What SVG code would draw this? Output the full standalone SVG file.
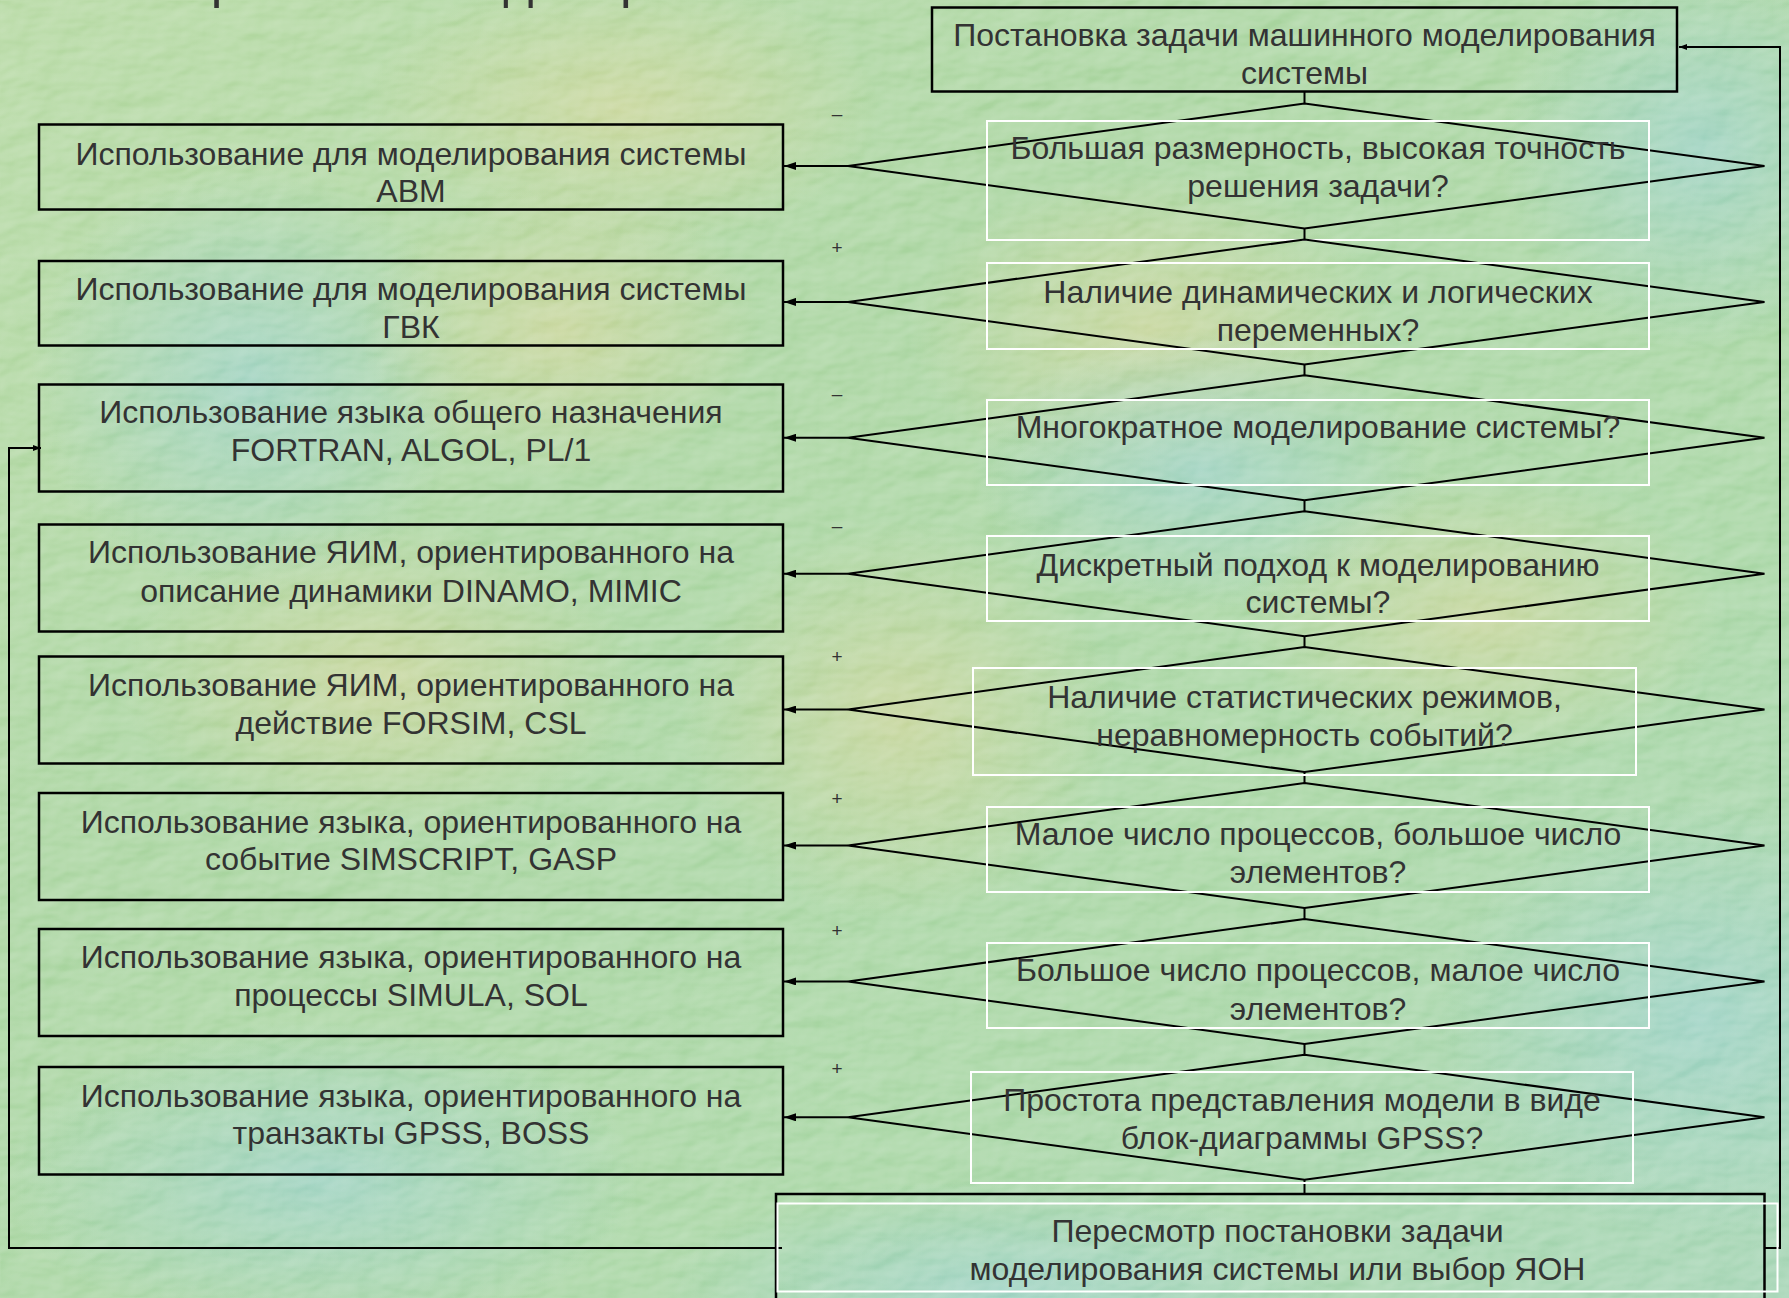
<svg xmlns="http://www.w3.org/2000/svg" width="1789" height="1298" viewBox="0 0 1789 1298">
<defs>
  <linearGradient id="bg" x1="0" y1="0" x2="1" y2="1">
    <stop offset="0" stop-color="#b4d8a0"/>
    <stop offset="0.35" stop-color="#a8d49e"/>
    <stop offset="0.7" stop-color="#a6d5a2"/>
    <stop offset="1" stop-color="#a1d3b2"/>
  </linearGradient>
  <radialGradient id="yel"><stop offset="0" stop-color="#d8d596" stop-opacity="0.6"/><stop offset="1" stop-color="#d8d596" stop-opacity="0"/></radialGradient>
  <radialGradient id="blu"><stop offset="0" stop-color="#98d0cc" stop-opacity="0.7"/><stop offset="1" stop-color="#98d0cc" stop-opacity="0"/></radialGradient>
  <filter id="tex" x="0" y="0" width="100%" height="100%">
    <feTurbulence type="fractalNoise" baseFrequency="0.022 0.04" numOctaves="3" seed="7" result="n"/>
    <feDiffuseLighting in="n" surfaceScale="3" lighting-color="#ffffff" result="l">
      <feDistantLight azimuth="225" elevation="55"/>
    </feDiffuseLighting>
    <feColorMatrix in="l" type="matrix" values="0 0 0 0 1  0 0 0 0 1  0 0 0 0 1  1.4 0 0 0 -0.85"/>
  </filter>
  <marker id="arr" markerWidth="12" markerHeight="8" refX="12" refY="4" orient="auto" markerUnits="userSpaceOnUse">
    <path d="M0,0 L12,4 L0,8 z" fill="#000"/>
  </marker>
  <marker id="arrs" markerWidth="8" markerHeight="6" refX="8" refY="3" orient="auto" markerUnits="userSpaceOnUse">
    <path d="M0,0 L8,3 L0,6 z" fill="#000"/>
  </marker>
  <style>
    .box { fill: none; stroke: #000; stroke-width: 2.5; }
    .dia { fill: none; stroke: #000; stroke-width: 2; }
    .wr { fill: none; stroke: #ffffff; stroke-width: 2; }
    .t { font-family: "Liberation Sans", Arial, sans-serif; font-size: 32px; fill: #333333; text-anchor: middle; }
    .s { font-family: "Liberation Sans", Arial, sans-serif; font-size: 19px; fill: #333333; text-anchor: middle; }
    .c { fill: none; stroke: #000; stroke-width: 2; }
    .title { font-family: "Liberation Sans", Arial, sans-serif; font-size: 52px; fill: #333333; }
  </style>
</defs>

<g id="background">
  <rect x="0" y="0" width="1789" height="1298" fill="url(#bg)"/>
  <ellipse cx="620" cy="110" rx="260" ry="140" fill="url(#yel)"/>
  <ellipse cx="250" cy="380" rx="220" ry="220" fill="url(#blu)"/>
  <ellipse cx="560" cy="330" rx="200" ry="150" fill="url(#yel)"/>
  <ellipse cx="1150" cy="330" rx="240" ry="160" fill="url(#yel)"/>
  <ellipse cx="1200" cy="470" rx="230" ry="140" fill="url(#blu)"/>
  <ellipse cx="380" cy="680" rx="260" ry="160" fill="url(#yel)"/>
  <ellipse cx="1480" cy="620" rx="240" ry="150" fill="url(#yel)"/>
  <ellipse cx="1700" cy="1020" rx="260" ry="220" fill="url(#blu)"/>
  <ellipse cx="320" cy="1180" rx="320" ry="160" fill="url(#blu)"/>
  <ellipse cx="1000" cy="1290" rx="340" ry="110" fill="url(#blu)"/>
  <ellipse cx="900" cy="720" rx="220" ry="200" fill="url(#yel)"/>
  <ellipse cx="1700" cy="150" rx="200" ry="200" fill="url(#blu)"/>
  <rect x="0" y="0" width="1789" height="1298" filter="url(#tex)" opacity="0.5"/>
</g>

<text class="title" x="87" y="-3">выбора языка моделирования</text>

<g id="connectors">
  <line class="c" x1="1304.5" y1="92" x2="1304.5" y2="103.5"/>
  <line class="c" x1="1304.5" y1="228.5" x2="1304.5" y2="239.4"/>
  <line class="c" x1="1304.5" y1="364.4" x2="1304.5" y2="375.3"/>
  <line class="c" x1="1304.5" y1="500.3" x2="1304.5" y2="511.2"/>
  <line class="c" x1="1304.5" y1="636.2" x2="1304.5" y2="647.1"/>
  <line class="c" x1="1304.5" y1="772.1" x2="1304.5" y2="783"/>
  <line class="c" x1="1304.5" y1="908" x2="1304.5" y2="918.9"/>
  <line class="c" x1="1304.5" y1="1043.9" x2="1304.5" y2="1054.8"/>
  <line class="c" x1="1304.5" y1="1179.8" x2="1304.5" y2="1194"/>

  <line class="c" x1="848" y1="166" x2="784" y2="166" marker-end="url(#arr)"/>
  <line class="c" x1="848" y1="301.9" x2="784" y2="301.9" marker-end="url(#arr)"/>
  <line class="c" x1="848" y1="437.8" x2="784" y2="437.8" marker-end="url(#arr)"/>
  <line class="c" x1="848" y1="573.7" x2="784" y2="573.7" marker-end="url(#arr)"/>
  <line class="c" x1="848" y1="709.6" x2="784" y2="709.6" marker-end="url(#arr)"/>
  <line class="c" x1="848" y1="845.5" x2="784" y2="845.5" marker-end="url(#arr)"/>
  <line class="c" x1="848" y1="981.4" x2="784" y2="981.4" marker-end="url(#arr)"/>
  <line class="c" x1="848" y1="1117.3" x2="784" y2="1117.3" marker-end="url(#arr)"/>

  <polyline class="c" points="1764,1248 1780,1248 1780,47 1679,47" marker-end="url(#arrs)"/>
  <polyline class="c" points="782,1248 9,1248 9,448 41,448" marker-end="url(#arrs)"/>
</g>

<g id="signs">
  <text class="s" x="837" y="120">–</text>
  <text class="s" x="837" y="254">+</text>
  <text class="s" x="837" y="400">–</text>
  <text class="s" x="837" y="532">–</text>
  <text class="s" x="837" y="663">+</text>
  <text class="s" x="837" y="805">+</text>
  <text class="s" x="837" y="937">+</text>
  <text class="s" x="837" y="1075">+</text>
</g>

<g id="start">
  <rect class="box" x="932" y="7.5" width="745" height="84"/>
  <text class="t" x="1304.5" y="45.5">Постановка задачи машинного моделирования</text>
  <text class="t" x="1304.5" y="83.5">системы</text>
</g>

<g id="q1">
  <polygon class="dia" points="1304.5,103.5 1764.5,166 1304.5,228.5 848,166"/>
  <rect class="wr" x="987" y="121" width="662" height="119"/>
  <text class="t" x="1318" y="158.5">Большая размерность, высокая точность</text>
  <text class="t" x="1318" y="197">решения задачи?</text>
</g>
<g id="q2">
  <polygon class="dia" points="1304.5,239.4 1764.5,301.9 1304.5,364.4 848,301.9"/>
  <rect class="wr" x="987" y="263" width="662" height="86"/>
  <text class="t" x="1318" y="302.5">Наличие динамических и логических</text>
  <text class="t" x="1318" y="341">переменных?</text>
</g>
<g id="q3">
  <polygon class="dia" points="1304.5,375.3 1764.5,437.8 1304.5,500.3 848,437.8"/>
  <rect class="wr" x="987" y="400" width="662" height="85"/>
  <text class="t" x="1318" y="438">Многократное моделирование системы?</text>
</g>
<g id="q4">
  <polygon class="dia" points="1304.5,511.2 1764.5,573.7 1304.5,636.2 848,573.7"/>
  <rect class="wr" x="987" y="536" width="662" height="85"/>
  <text class="t" x="1318" y="576">Дискретный подход к моделированию</text>
  <text class="t" x="1318" y="613">системы?</text>
</g>
<g id="q5">
  <polygon class="dia" points="1304.5,647.1 1764.5,709.6 1304.5,772.1 848,709.6"/>
  <rect class="wr" x="973" y="668" width="663" height="107"/>
  <text class="t" x="1304.5" y="707.5">Наличие статистических режимов,</text>
  <text class="t" x="1304.5" y="745.5">неравномерность событий?</text>
</g>
<g id="q6">
  <polygon class="dia" points="1304.5,783 1764.5,845.5 1304.5,908 848,845.5"/>
  <rect class="wr" x="987" y="807" width="662" height="85"/>
  <text class="t" x="1318" y="844.5">Малое число процессов, большое число</text>
  <text class="t" x="1318" y="883">элементов?</text>
</g>
<g id="q7">
  <polygon class="dia" points="1304.5,918.9 1764.5,981.4 1304.5,1043.9 848,981.4"/>
  <rect class="wr" x="987" y="943" width="662" height="85"/>
  <text class="t" x="1318" y="981">Большое число процессов, малое число</text>
  <text class="t" x="1318" y="1019.5">элементов?</text>
</g>
<g id="q8">
  <polygon class="dia" points="1304.5,1054.8 1764.5,1117.3 1304.5,1179.8 848,1117.3"/>
  <rect class="wr" x="971" y="1072" width="662" height="111"/>
  <text class="t" x="1302" y="1110.5">Простота представления модели в виде</text>
  <text class="t" x="1302" y="1148.5">блок-диаграммы GPSS?</text>
</g>

<g id="revise">
  <rect class="box" x="776" y="1194" width="988.5" height="130"/>
  <rect class="wr" x="777.5" y="1203.5" width="1000" height="88"/>
  <text class="t" x="1277.5" y="1242">Пересмотр постановки задачи</text>
  <text class="t" x="1277.5" y="1280">моделирования системы или выбор ЯОН</text>
</g>

<g id="a1">
  <rect class="box" x="39" y="124.5" width="744" height="85"/>
  <text class="t" x="411" y="164.5">Использование для моделирования системы</text>
  <text class="t" x="411" y="202">АВМ</text>
</g>
<g id="a2">
  <rect class="box" x="39" y="261" width="744" height="84.5"/>
  <text class="t" x="411" y="300">Использование для моделирования системы</text>
  <text class="t" x="411" y="337.5">ГВК</text>
</g>
<g id="a3">
  <rect class="box" x="39" y="384.5" width="744" height="107"/>
  <text class="t" x="411" y="423">Использование языка общего назначения</text>
  <text class="t" x="411" y="461">FORTRAN, ALGOL, PL/1</text>
</g>
<g id="a4">
  <rect class="box" x="39" y="524.5" width="744" height="107"/>
  <text class="t" x="411" y="563">Использование ЯИМ, ориентированного на</text>
  <text class="t" x="411" y="601.5">описание динамики DINAMO, MIMIC</text>
</g>
<g id="a5">
  <rect class="box" x="39" y="656.5" width="744" height="107"/>
  <text class="t" x="411" y="696">Использование ЯИМ, ориентированного на</text>
  <text class="t" x="411" y="733.5">действие FORSIM, CSL</text>
</g>
<g id="a6">
  <rect class="box" x="39" y="793" width="744" height="107"/>
  <text class="t" x="411" y="832.5">Использование языка, ориентированного на</text>
  <text class="t" x="411" y="870">событие SIMSCRIPT, GASP</text>
</g>
<g id="a7">
  <rect class="box" x="39" y="929" width="744" height="107"/>
  <text class="t" x="411" y="968">Использование языка, ориентированного на</text>
  <text class="t" x="411" y="1006">процессы SIMULA, SOL</text>
</g>
<g id="a8">
  <rect class="box" x="39" y="1067" width="744" height="107.5"/>
  <text class="t" x="411" y="1106.5">Использование языка, ориентированного на</text>
  <text class="t" x="411" y="1143.5">транзакты GPSS, BOSS</text>
</g>
</svg>
